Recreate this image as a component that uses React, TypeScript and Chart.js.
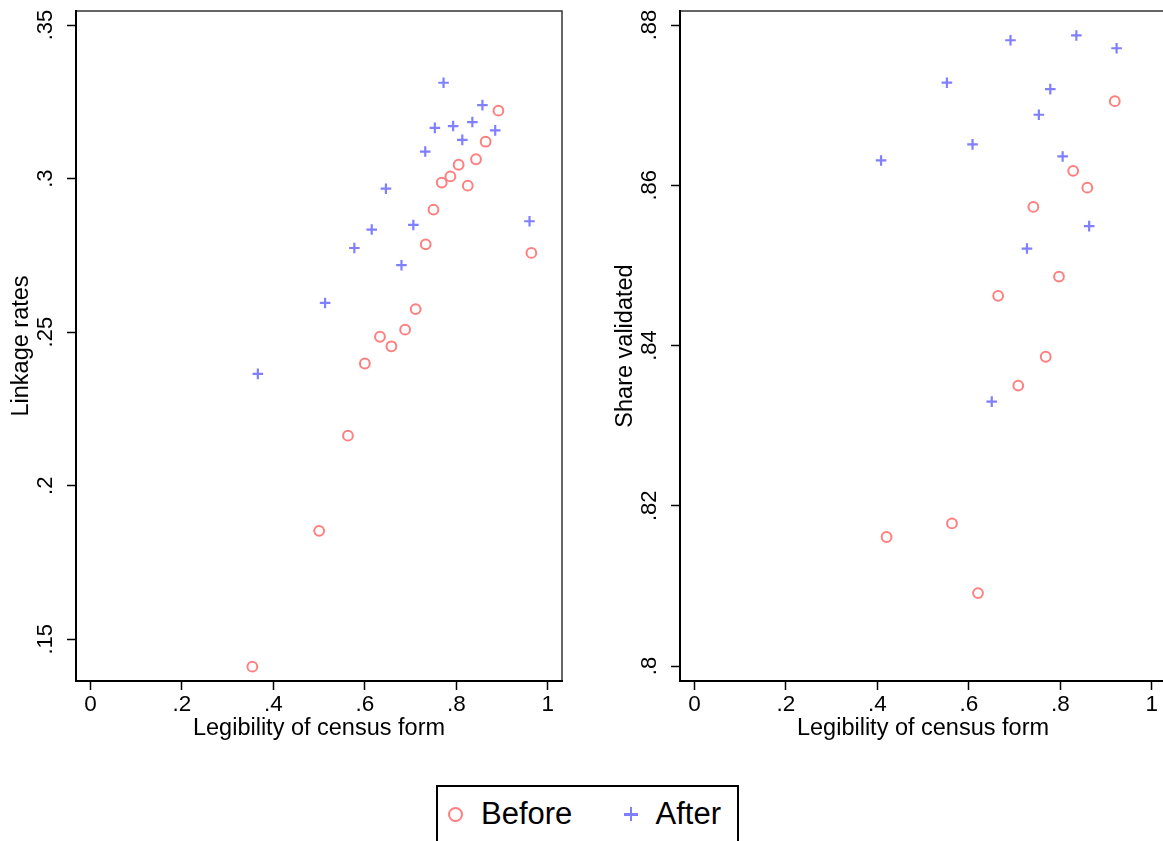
import React, { useEffect, useRef } from "react";
import { Chart, registerables } from "chart.js";

Chart.register(...registerables);

// ---- Data ----
const xTickValues = [0, 0.2, 0.4, 0.6, 0.8, 1];
const xTickLabels = ["0", ".2", ".4", ".6", ".8", "1"];

const leftYTickValues = [0.15, 0.2, 0.25, 0.3, 0.35];
const leftYTickLabels = [".15", ".2", ".25", ".3", ".35"];
const rightYTickValues = [0.8, 0.82, 0.84, 0.86, 0.88];
const rightYTickLabels = [".8", ".82", ".84", ".86", ".88"];

const seriesNames = ["Before", "After"];

const linkBeforeX = [0.892, 0.864, 0.843, 0.805, 0.787, 0.768, 0.825, 0.750, 0.733, 0.964, 0.711, 0.688, 0.633, 0.658, 0.600, 0.563, 0.500, 0.354];
const linkBeforeY = [0.3221, 0.3120, 0.3063, 0.3045, 0.3007, 0.2987, 0.2977, 0.2899, 0.2786, 0.2758, 0.2575, 0.2508, 0.2485, 0.2454, 0.2398, 0.2163, 0.1853, 0.1411];
const linkAfterX = [0.772, 0.857, 0.753, 0.793, 0.835, 0.885, 0.813, 0.732, 0.646, 0.615, 0.577, 0.706, 0.680, 0.960, 0.513, 0.366];
const linkAfterY = [0.3312, 0.3239, 0.3165, 0.3171, 0.3184, 0.3157, 0.3126, 0.3088, 0.2967, 0.2834, 0.2774, 0.2849, 0.2718, 0.2861, 0.2595, 0.2364];

const shareBeforeX = [0.919, 0.828, 0.859, 0.741, 0.797, 0.664, 0.768, 0.708, 0.563, 0.420, 0.620];
const shareBeforeY = [0.8705, 0.8618, 0.8597, 0.8573, 0.8486, 0.8462, 0.8386, 0.8350, 0.8178, 0.8161, 0.8091];
const shareAfterX = [0.691, 0.835, 0.923, 0.552, 0.778, 0.753, 0.608, 0.408, 0.805, 0.863, 0.727, 0.650];
const shareAfterY = [0.8781, 0.8787, 0.8771, 0.8728, 0.8720, 0.8688, 0.8651, 0.8631, 0.8636, 0.8549, 0.8521, 0.8330];

// ---- Styles ----
const FONT = "'Liberation Sans', Arial, sans-serif";
const BEFORE_COLOR = "#ff7f7f";
const AFTER_COLOR = "#7f7fff";

const toPoints = (xs: number[], ys: number[]) => xs.map((x, i) => ({ x, y: ys[i] }));

const labelFor = (vals: number[], labels: string[]) => (value: number | string) => {
  const v = Number(value);
  const i = vals.findIndex((t) => Math.abs(t - v) < 1e-9);
  return i >= 0 ? labels[i] : "";
};

const framePlugin = {
  id: "frame",
  beforeDraw(chart: any) {
    const { ctx, chartArea: a } = chart;
    ctx.save();
    ctx.strokeStyle = "#333";
    ctx.lineWidth = 1.5;
    ctx.strokeRect(a.left, a.top, a.right - a.left, a.bottom - a.top);
    ctx.restore();
  },
};

type PanelProps = {
  left: number;
  beforeX: number[];
  beforeY: number[];
  afterX: number[];
  afterY: number[];
  yTitle: string;
  yVals: number[];
  yLabels: string[];
  yMin: number;
  yMax: number;
};

function Panel(p: PanelProps) {
  const ref = useRef<HTMLCanvasElement | null>(null);
  useEffect(() => {
    if (!ref.current) return;
    const chart = new Chart(ref.current, {
      type: "scatter",
      data: {
        datasets: [
          {
            label: seriesNames[0],
            data: toPoints(p.beforeX, p.beforeY),
            pointStyle: "circle",
            pointRadius: 4.9,
            pointBorderWidth: 2,
            borderColor: BEFORE_COLOR,
            backgroundColor: "rgba(0,0,0,0)",
          },
          {
            label: seriesNames[1],
            data: toPoints(p.afterX, p.afterY),
            pointStyle: "cross",
            pointRadius: 5.3,
            pointBorderWidth: 2.2,
            borderColor: AFTER_COLOR,
            backgroundColor: AFTER_COLOR,
          },
        ],
      },
      options: {
        responsive: false,
        animation: false,
        events: [],
        clip: false as any,
        layout: { padding: { top: 11, right: 18, bottom: 0, left: 0 } },
        plugins: { legend: { display: false }, tooltip: { enabled: false } },
        scales: {
          x: {
            type: "linear",
            min: -0.0316,
            max: 1.031,
            afterBuildTicks: (s: any) => {
              s.ticks = xTickValues.map((v) => ({ value: v }));
            },
            afterFit: (s: any) => {
              s.height = 70;
              s.paddingLeft = 0;
              s.paddingRight = 0;
              s.paddingTop = 0;
              s.paddingBottom = 0;
            },
            grid: {
              drawOnChartArea: false,
              drawTicks: true,
              tickLength: 9,
              tickWidth: 1.5,
              tickColor: "#000",
              color: "#000",
            },
            border: { display: true, color: "#000", width: 2 },
            ticks: {
              padding: 1,
              maxRotation: 0,
              autoSkip: false,
              color: "#000",
              font: { family: FONT, size: 22.5 },
              callback: labelFor(xTickValues, xTickLabels),
            },
            title: {
              display: true,
              text: "Legibility of census form",
              color: "#000",
              font: { family: FONT, size: 23.5 },
              padding: { top: 0, bottom: 8 },
            },
          },
          y: {
            type: "linear",
            min: p.yMin,
            max: p.yMax,
            afterBuildTicks: (s: any) => {
              s.ticks = p.yVals.map((v) => ({ value: v }));
            },
            afterFit: (s: any) => {
              s.width = 76;
              s.paddingLeft = 0;
              s.paddingRight = 0;
              s.paddingTop = 0;
              s.paddingBottom = 0;
            },
            grid: {
              drawOnChartArea: false,
              drawTicks: true,
              tickLength: 9,
              tickWidth: 1.5,
              tickColor: "#000",
              color: "#000",
            },
            border: { display: true, color: "#000", width: 2 },
            ticks: {
              padding: 6,
              minRotation: 90,
              maxRotation: 90,
              crossAlign: "center",
              autoSkip: false,
              color: "#000",
              font: { family: FONT, size: 22 },
              callback: labelFor(p.yVals, p.yLabels),
            },
            title: {
              display: true,
              text: p.yTitle,
              color: "#000",
              font: { family: FONT, size: 23.5 },
              padding: { top: 7, bottom: 0 },
            },
          },
        },
      } as any,
      plugins: [framePlugin],
    });
    return () => chart.destroy();
  }, []);
  return (
    <canvas
      ref={ref}
      width={580}
      height={751}
      style={{ position: "absolute", left: p.left, top: 0, width: 580, height: 751 }}
    />
  );
}

function Legend() {
  const textStyle: React.CSSProperties = {
    position: "absolute",
    top: 798,
    fontFamily: FONT,
    fontSize: 31,
    lineHeight: "31px",
    color: "#000",
    whiteSpace: "nowrap",
  };
  return (
    <>
      <div
        style={{
          position: "absolute",
          left: 436,
          top: 785,
          width: 303,
          height: 80,
          border: "2px solid #000",
          boxSizing: "border-box",
          background: "#fff",
        }}
      />
      <div
        style={{
          position: "absolute",
          left: 448,
          top: 806.5,
          width: 15,
          height: 15,
          borderRadius: "50%",
          border: `2.5px solid ${BEFORE_COLOR}`,
          boxSizing: "border-box",
        }}
      />
      <span style={{ ...textStyle, left: 481 }}>{seriesNames[0]}</span>
      <div style={{ position: "absolute", left: 624, top: 813, width: 14, height: 2.5, background: AFTER_COLOR }} />
      <div style={{ position: "absolute", left: 629.8, top: 807, width: 2.5, height: 14, background: AFTER_COLOR }} />
      <span style={{ ...textStyle, left: 655.5 }}>{seriesNames[1]}</span>
    </>
  );
}

export default function App() {
  return (
    <div
      style={{
        position: "fixed",
        left: 0,
        top: 0,
        width: 1163,
        height: 841,
        overflow: "hidden",
        background: "#fff",
      }}
    >
      <Panel
        left={0}
        beforeX={linkBeforeX}
        beforeY={linkBeforeY}
        afterX={linkAfterX}
        afterY={linkAfterY}
        yTitle="Linkage rates"
        yVals={leftYTickValues}
        yLabels={leftYTickLabels}
        yMin={0.13642}
        yMax={0.35456}
      />
      <Panel
        left={604}
        beforeX={shareBeforeX}
        beforeY={shareBeforeY}
        afterX={shareAfterX}
        afterY={shareAfterY}
        yTitle="Share validated"
        yVals={rightYTickValues}
        yLabels={rightYTickLabels}
        yMin={0.79813}
        yMax={0.88175}
      />
      <Legend />
    </div>
  );
}
